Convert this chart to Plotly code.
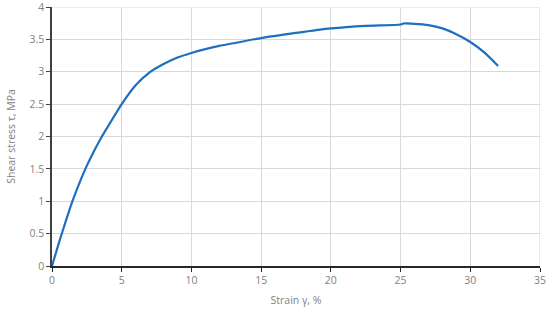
import plotly.graph_objects as go

# strain (%) and shear stress (MPa)
strain = [0, 0.5, 1, 1.5, 2, 2.5, 3, 3.5, 4, 5, 6, 7, 8, 9, 10, 11, 12, 13,
          15, 17.5, 20, 22.5, 25, 25.2, 26, 27, 28, 29, 30, 31, 32]
stress = [0, 0.36, 0.7, 1.02, 1.3, 1.55, 1.77, 1.97, 2.15, 2.5, 2.79, 2.99,
          3.12, 3.22, 3.29, 3.35, 3.4, 3.44, 3.52, 3.6, 3.67, 3.71, 3.73,
          3.745, 3.74, 3.72, 3.67, 3.58, 3.46, 3.3, 3.09]
x_ticks = [0, 5, 10, 15, 20, 25, 30, 35]
y_ticks = [0, 0.5, 1, 1.5, 2, 2.5, 3, 3.5, 4]

fig = go.Figure()
fig.add_trace(go.Scatter(
    x=strain, y=stress, mode='lines',
    line=dict(color='#1F6FC0', width=2.2, shape='spline', smoothing=0.6),
    showlegend=False
))

font = dict(family='Open Sans, Liberation Sans, sans-serif', size=10.5, color='#7f7f7f')

fig.update_layout(
    width=550, height=310,
    margin=dict(l=52, r=10, t=7, b=44),
    paper_bgcolor='white', plot_bgcolor='white',
    font=font,
    xaxis=dict(
        range=[0, 35], tickvals=x_ticks, ticktext=[str(v) for v in x_ticks],
        showgrid=True, gridcolor='#d9d9d9', gridwidth=1,
        zeroline=False, showline=True, linecolor='#262626', linewidth=1.5,
        ticks='outside', ticklen=4, tickcolor='#262626', automargin=False,
        ticklabeloverflow='allow',
        title=dict(text='Strain γ, %', standoff=10, font=font)
    ),
    yaxis=dict(
        range=[0, 4], tickvals=y_ticks, ticktext=[f'{v:g}' for v in y_ticks],
        showgrid=True, gridcolor='#d9d9d9', gridwidth=1,
        zeroline=False, showline=True, linecolor='#404040', linewidth=1.5,
        ticks='outside', ticklen=4, tickcolor='#404040', automargin=False,
        ticklabeloverflow='allow',
        title=dict(text='Shear stress τ, MPa', standoff=12, font=font)
    )
)

# top and right border gridlines (plotly drops gridlines at the range ends)
fig.add_shape(type='line', xref='paper', yref='y', x0=0, x1=1, y0=y_ticks[-1], y1=y_ticks[-1],
              line=dict(color='#d9d9d9', width=1), layer='below')
fig.add_shape(type='line', xref='x', yref='paper', x0=x_ticks[-1], x1=x_ticks[-1], y0=0, y1=1,
              line=dict(color='#d9d9d9', width=1), layer='below')

fig.write_html("out.html", config={'displayModeBar': False},
               post_script="document.body.style.margin='0';")
